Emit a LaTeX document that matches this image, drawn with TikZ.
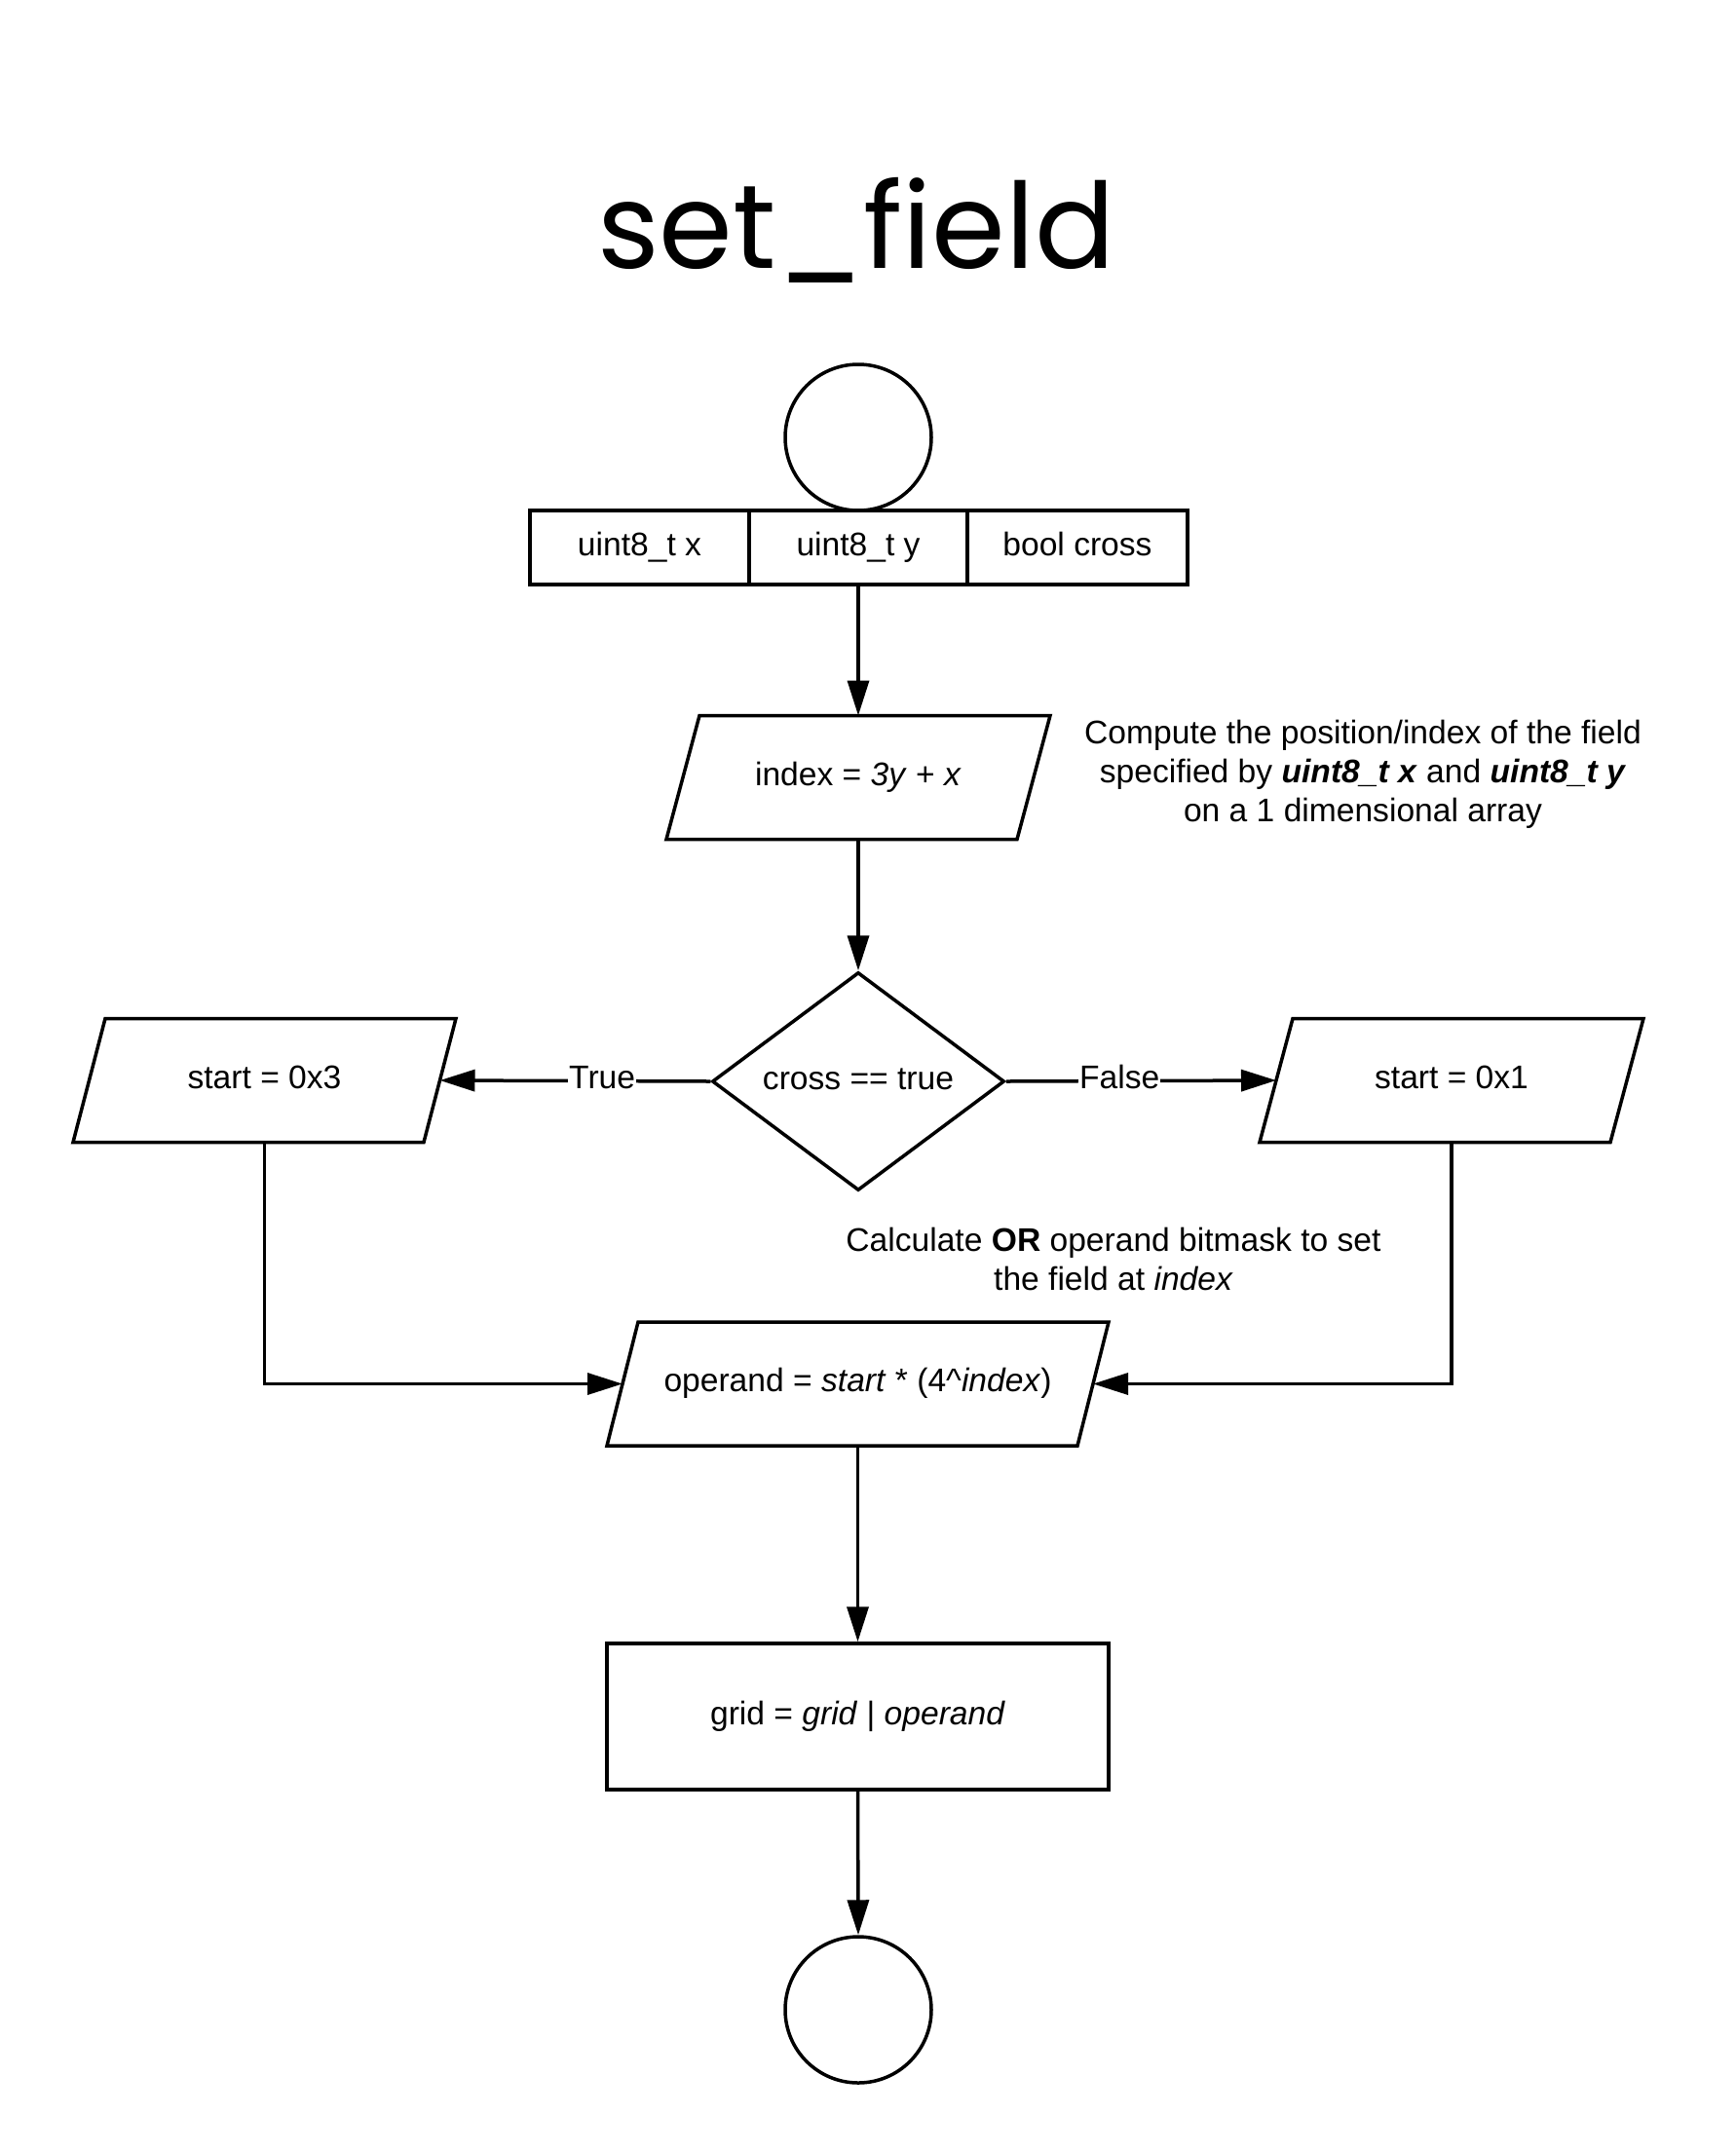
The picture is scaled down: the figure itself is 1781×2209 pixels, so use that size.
\documentclass[tikz,border=0pt]{standalone}
\usepackage{fontspec}
\setmainfont{Liberation Sans}
\newfontfamily\titlefont{Poppins}
\usetikzlibrary{shapes.geometric,arrows.meta}
\begin{document}
\begin{tikzpicture}[x=1pt,y=-1pt,
  line width=3.5pt,
  >={Triangle[length=36pt,width=22pt]},
  every node/.style={font=\fontsize{33.6}{40}\selectfont},
  fixt/.style={text height=24pt, text depth=8pt},
  box/.style={draw, rectangle, inner sep=0pt, fixt},
  para/.style={rectangle, inner sep=0pt, outer sep=0pt, minimum width=#1, minimum height=127, fixt},
  lbl/.style={fill=white, inner sep=1pt, fixt},
  note/.style={align=center}
]
\fill[white] (0,0) rectangle (1781,2209);
\useasboundingbox (0,0) rectangle (1781,2209);

\node[anchor=base, font=\titlefont\fontsize{122}{122}\selectfont] (title) at (879,275) {set\_field};

\node[draw, circle, minimum size=150, inner sep=0pt] (start) at (881,449) {};
\node[box, minimum width=225, minimum height=76] (p1) at (656.5,562) {uint8\_t x};
\node[box, minimum width=224, minimum height=76] (p2) at (881,562) {uint8\_t y};
\node[box, minimum width=226, minimum height=76] (p3) at (1106,562) {bool cross};

\node[para=360] (idx) at (881,798) {index = \textit{3y} + \textit{x}};
\node[note] (n1) at (1399,795) {Compute the position/index of the field\\specified by \textbf{\textit{uint8\_t x}} and \textbf{\textit{uint8\_t y}}\\on a 1 dimensional array};

\node[draw, diamond, aspect=1.34, minimum width=300, minimum height=224, inner sep=0pt, fixt] (dia) at (881,1110) {cross == true};
\node[para=360] (s3) at (271.5,1109) {start = 0x3};
\node[para=360] (s1) at (1490,1109) {start = 0x1};

\node[note] (n2) at (1143,1292) {Calculate \textbf{OR} operand bitmask to set\\the field at \textit{index}};

\node[para=483] (op) at (880.5,1420.5) {operand = \textit{start} * (4\^{}\textit{index})};
\node[box, minimum width=515, minimum height=150] (grid) at (880.5,1762) {grid = \textit{grid} | \textit{operand}};
\node[draw, circle, minimum size=150, inner sep=0pt] (end) at (881,2063) {};

\foreach \n/\s in {idx/17,s3/16.5,s1/17,op/16}{
  \draw[line join=miter] ([xshift=\s]\n.north west) -- ([xshift=\s]\n.north east) -- ([xshift=-\s]\n.south east) -- ([xshift=-\s]\n.south west) -- cycle;
}

\draw[->] (p2.south) -- (idx.north);
\draw[->] (idx.south) -- (dia.north);
\draw[->] (dia.west) -- node[lbl, pos=0.4] {True} (s3.east);
\draw[->] (dia.east) -- node[lbl, pos=0.42] {False} (s1.west);
\draw[->] (s3.south) |- (op.west);
\draw[->] (s1.south) |- (op.east);
\draw[->] (op.south) -- (grid.north);
\draw[->] (grid.south) -- (end.north);
\end{tikzpicture}
\end{document}
